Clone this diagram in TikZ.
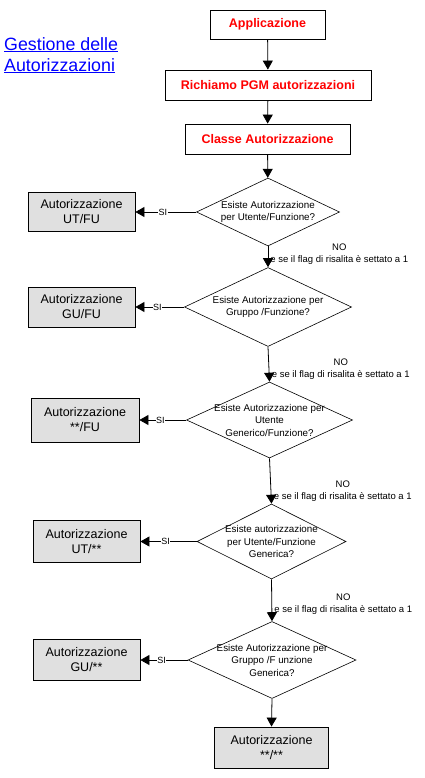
\documentclass[tikz,border=0pt]{standalone}
\usepackage{fontspec}
\setmainfont{Liberation Sans}
\usetikzlibrary{shapes.geometric,arrows.meta,calc}
\definecolor{boxgrey}{RGB}{224,224,224}
\begin{document}
\begin{tikzpicture}[x=1pt,y=-1pt,
 redbox/.style={draw=black, line width=0.8pt, fill=white, inner sep=0pt, text=red, font=\fontsize{12.5}{15}\selectfont\bfseries},
 greybox/.style={draw=black, line width=0.8pt, fill=boxgrey, inner sep=0pt, align=center, font=\fontsize{12.5}{15}\selectfont, minimum width=107pt},
 dia/.style={draw=black, diamond, line width=0.6pt, inner sep=0pt},
 dtext/.style={align=center, font=\fontsize{9.8}{12.5}\selectfont, inner sep=0pt},
 arr/.style={draw=black, line width=0.8pt, -{Triangle[width=10pt,length=9pt]}},
 lab/.style={font=\fontsize{9}{10}\selectfont, inner sep=0.5pt, fill=white},
 nolab/.style={font=\fontsize{9.5}{12}\selectfont, align=center, inner sep=0pt, anchor=south west, xshift=2pt, yshift=2pt}
]
\useasboundingbox (0,0) rectangle (424,778);

\node[anchor=north west, align=left, text=blue, font=\fontsize{17.8}{21}\selectfont, inner sep=0pt] (title) at (4,37)
  {\underline{Gestione delle}\\\underline{Autorizzazioni}};

\node[redbox, minimum width=115pt, minimum height=29pt] (a) at (267.5,24.5) {Applicazione};
\node[redbox, minimum width=206pt, minimum height=30pt] (r) at (268,85) {Richiamo PGM autorizzazioni};
\node[redbox, minimum width=165pt, minimum height=30pt] (c) at (267.5,139) {Classe Autorizzazione};

\node[dia, minimum width=143pt, minimum height=68pt] (d1) at (268,212) {};
\node[dtext] at (d1.center) {Esiste Autorizzazione\\per Utente/Funzione?};
\node[dia, minimum width=167pt, minimum height=79pt] (d2) at (268,307) {};
\node[dtext] at (d2.center) {Esiste Autorizzazione per\\Gruppo /Funzione?};
\node[dia, minimum width=166pt, minimum height=76pt] (d3) at (269.5,420) {};
\node[dtext] at (d3.center) {Esiste Autorizzazione per\\Utente\\Generico/Funzione?};
\node[dia, minimum width=149pt, minimum height=75pt] (d4) at (271.5,541.5) {};
\node[dtext] at (d4.center) {Esiste autorizzazione\\per Utente/Funzione\\Generica?};
\node[dia, minimum width=168pt, minimum height=77pt] (d5) at (272,660) {};
\node[dtext] at (d5.center) {Esiste Autorizzazione per\\Gruppo /F unzione\\Generica?};

\node[greybox, minimum height=39pt] (b1) at (81.5,212) {Autorizzazione\\UT/FU};
\node[greybox, minimum height=40pt] (b2) at (81.5,307) {Autorizzazione\\GU/FU};
\node[greybox, minimum width=108pt, minimum height=44pt] (b3) at (85,420) {Autorizzazione\\**/FU};
\node[greybox, minimum height=42pt] (b4) at (86.5,541.5) {Autorizzazione\\UT/**};
\node[greybox, minimum height=41pt] (b5) at (86.5,660) {Autorizzazione\\GU/**};
\node[greybox, minimum width=114pt, minimum height=41pt] (b6) at (271.5,747.5) {Autorizzazione\\**/**};

\draw[arr] (a) -- (r);
\draw[arr] (r) -- (c);
\draw[arr] (c) -- (d1);
\draw[arr] (d1.south) -- node[pos=1, nolab]{NO\\e se il flag di risalita è settato a 1} (d2.north);
\draw[arr] (d2.south) -- node[pos=1, nolab]{NO\\e se il flag di risalita è settato a 1} (d3.north);
\draw[arr] (d3.south) -- node[pos=1, nolab]{NO\\e se il flag di risalita è settato a 1} (d4.north);
\draw[arr] (d4.south) -- node[pos=1, nolab, yshift=4pt]{NO\\e se il flag di risalita è settato a 1} (d5.north);
\draw[arr] (d5.south) -- (b6.north);

\draw[arr] (d1.west) -- node[lab, pos=0.55]{SI} (b1.east);
\draw[arr] (d2.west) -- node[lab, pos=0.55]{SI} (b2.east);
\draw[arr] (d3.west) -- node[lab, pos=0.55]{SI} (b3.east);
\draw[arr] (d4.west) -- node[lab, pos=0.55]{SI} (b4.east);
\draw[arr] (d5.west) -- node[lab, pos=0.55]{SI} (b5.east);
\end{tikzpicture}
\end{document}
